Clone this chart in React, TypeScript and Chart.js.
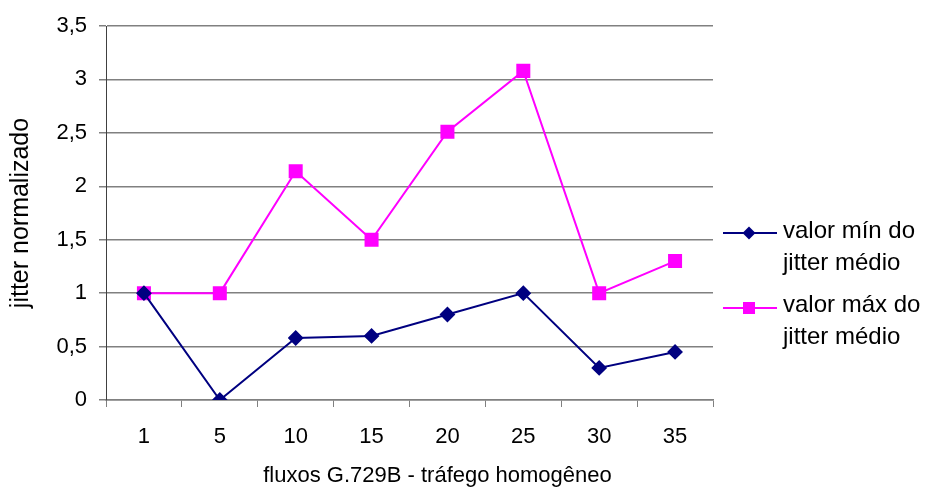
import React, { useEffect, useRef } from "react";
import { Chart, registerables } from "chart.js";

Chart.register(...registerables);

const categories = ["1", "5", "10", "15", "20", "25", "30", "35"];
const minJitter = [1.0, 0.0, 0.58, 0.6, 0.8, 1.0, 0.3, 0.45];
const maxJitter = [1.0, 1.0, 2.14, 1.5, 2.51, 3.08, 1.0, 1.3];
const seriesNames = [["valor mín do", "jitter médio"], ["valor máx do", "jitter médio"]];
const xTitle = "fluxos G.729B - tráfego homogêneo";
const yTitle = "jitter normalizado";

const FONT = "'Liberation Sans', Arial, sans-serif";

const legendPlugin = {
  id: "sideLegend",
  afterDraw(chart: any) {
    const ctx = chart.ctx;
    const startX = 723;
    const lineEnd = 777;
    const textX = 783;
    const lineYs = [233, 308];
    const baselines = [238, 312];
    const lh = 32;
    ctx.save();
    chart.data.datasets.forEach((ds: any, i: number) => {
      const y = lineYs[i];
      ctx.strokeStyle = ds.borderColor;
      ctx.lineWidth = 2;
      ctx.beginPath();
      ctx.moveTo(startX, y);
      ctx.lineTo(lineEnd, y);
      ctx.stroke();
      const mx = 749;
      ctx.fillStyle = ds.pointBackgroundColor;
      ctx.beginPath();
      if (ds.pointStyle === "rectRot") {
        const r = ds.pointRadius;
        ctx.moveTo(mx - r, y);
        ctx.lineTo(mx, y - r);
        ctx.lineTo(mx + r, y);
        ctx.lineTo(mx, y + r);
      } else {
        const s = ds.pointRadius * Math.SQRT1_2;
        ctx.rect(mx - s, y - s, 2 * s, 2 * s);
      }
      ctx.closePath();
      ctx.fill();
      ctx.fillStyle = "#000";
      ctx.font = `24px ${FONT}`;
      ctx.textAlign = "left";
      ctx.textBaseline = "alphabetic";
      seriesNames[i].forEach((t, j) => ctx.fillText(t, textX, baselines[i] + j * lh));
    });
    // x-axis title, centred as in the reference
    ctx.fillStyle = "#000";
    ctx.font = `22px ${FONT}`;
    ctx.textAlign = "center";
    ctx.textBaseline = "alphabetic";
    ctx.fillText(xTitle, 437.5, 482);
    ctx.restore();
  },
};

export default function App() {
  const ref = useRef<HTMLCanvasElement>(null);
  useEffect(() => {
    if (!ref.current) return;
    const chart = new Chart(ref.current, {
      type: "line",
      data: {
        labels: categories,
        datasets: [
          {
            label: seriesNames[0].join(" "),
            data: minJitter,
            borderColor: "#000080",
            backgroundColor: "#000080",
            pointBackgroundColor: "#000080",
            pointBorderColor: "#000080",
            pointStyle: "rectRot",
            pointRadius: 6.5,
            borderWidth: 2,
            tension: 0,
          },
          {
            label: seriesNames[1].join(" "),
            data: maxJitter,
            borderColor: "#FF00FF",
            backgroundColor: "#FF00FF",
            pointBackgroundColor: "#FF00FF",
            pointBorderColor: "#FF00FF",
            pointStyle: "rect",
            pointRadius: 8.5,
            borderWidth: 2,
            tension: 0,
          },
        ],
      },
      options: {
        animation: false,
        responsive: false,
        layout: { padding: { top: 26, right: 218, left: 0, bottom: 0 } },
        plugins: { legend: { display: false }, tooltip: { enabled: false } },
        scales: {
          x: {
            offset: true,
            afterFit: (s: any) => {
              s.height = 97;
            },
            grid: {
              offset: true,
              drawOnChartArea: false,
              drawTicks: true,
              tickLength: 7,
              color: "#808080",
            },
            border: { color: "#808080", width: 1.5 },
            ticks: { color: "#000", font: { family: FONT, size: 22 }, padding: 17, maxRotation: 0 },
            title: { display: false },
          },
          y: {
            min: 0,
            max: 3.5,
            afterFit: (s: any) => {
              s.width = 106;
            },
            ticks: {
              stepSize: 0.5,
              color: "#000",
              font: { family: FONT, size: 22 },
              padding: 12,
              callback: (v: any) => String(v).replace(".", ","),
            },
            grid: { color: "#808080", lineWidth: 1.5, tickLength: 7, drawTicks: true },
            border: { color: "#404040", width: 1 },
            title: {
              display: true,
              text: yTitle,
              color: "#000",
              font: { family: FONT, size: 25 },
              padding: { top: 6, bottom: 0 },
            },
          },
        },
      },
      plugins: [legendPlugin],
    });
    return () => chart.destroy();
  }, []);
  return (
    <div style={{ position: "fixed", left: 0, top: 0, width: 931, height: 497, background: "#fff" }}>
      <canvas ref={ref} width={931} height={497} />
    </div>
  );
}
